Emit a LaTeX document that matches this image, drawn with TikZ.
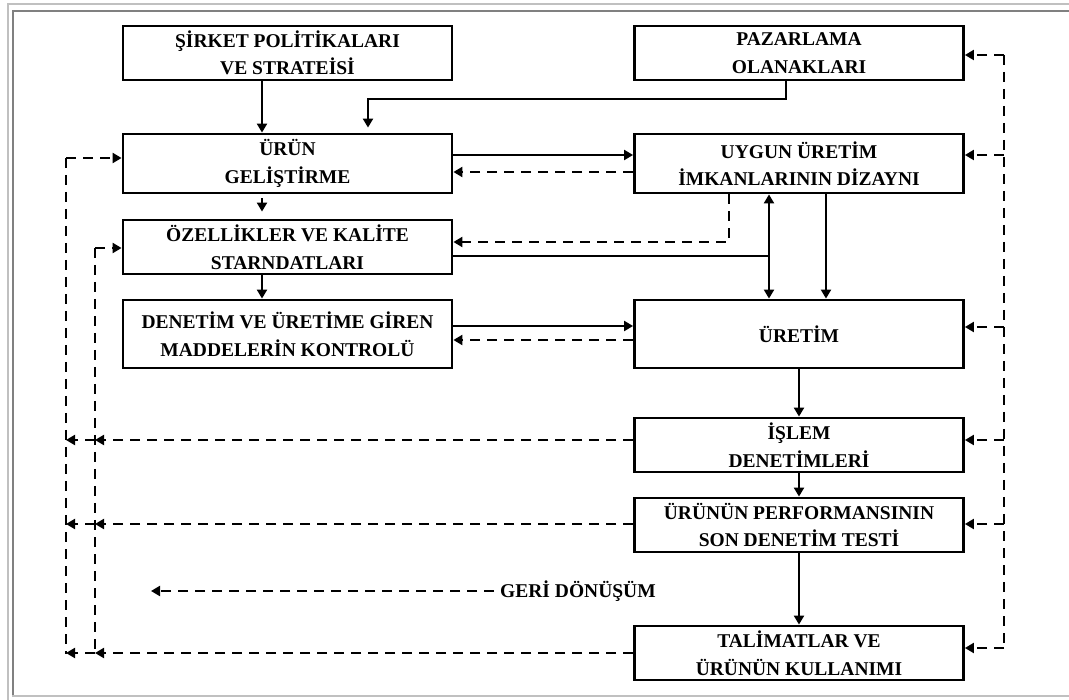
\documentclass[tikz,border=0pt]{standalone}
\usepackage{fontspec}
\setmainfont{Liberation Serif}
\usetikzlibrary{arrows.meta}
\definecolor{framelight}{RGB}{192,192,192}
\definecolor{framedark}{RGB}{128,128,128}

\tikzset{
  box/.style={draw, line width=2.8pt, minimum width=329pt, minimum height=54pt, inner sep=0pt,
    align=center, font=\fontsize{19.5}{27.5}\selectfont\bfseries},
  flow/.style={line width=2pt, -{Triangle[length=9pt,width=10pt]}},
  fb/.style={line width=2pt, dash pattern=on 10pt off 7pt, -{Triangle[length=9pt,width=10pt]}},
  fbline/.style={line width=2pt, dash pattern=on 10pt off 7pt}
}

\begin{document}
\begin{tikzpicture}[x=1pt, y=-1pt]
  \useasboundingbox (0,0) rectangle (1069,700);
  % frame
  \draw[framelight, line width=2pt] (8,700) -- (8,4) -- (1069,4);
  \draw[framedark, line width=2pt] (13,695) -- (13,11) -- (1069,11);
  \draw[framelight, line width=2pt] (12,696) -- (1069,696);

  \node[box] (sirket) at (287.5,53) {ŞİRKET POLİTİKALARI\\VE STRATEİSİ};
  \node[box] (pazar) at (799,53) {PAZARLAMA\\OLANAKLARI};
  \node[box, minimum height=59pt] (urun) at (287.5,163.5) {ÜRÜN\\GELİŞTİRME};
  \node[box, minimum height=59pt] (uygun) at (799,163.5) {UYGUN ÜRETİM\\İMKANLARININ DİZAYNI};
  \node[box] (ozel) at (287.5,247) {ÖZELLİKLER VE KALİTE\\STARNDATLARI};
  \node[box, minimum height=68pt] (denetim) at (287.5,334) {DENETİM VE ÜRETİME GİREN\\MADDELERİN KONTROLÜ};
  \node[box, minimum height=68pt] (uretim) at (799,334) {ÜRETİM};
  \node[box] (islem) at (799,445) {İŞLEM\\DENETİMLERİ};
  \node[box] (perf) at (799,525) {ÜRÜNÜN PERFORMANSININ\\SON DENETİM TESTİ};
  \node[box] (talimat) at (799,653) {TALİMATLAR VE\\ÜRÜNÜN KULLANIMI};

  \coordinate (rbus) at (1004,0);
  \coordinate (obus) at (66,0);
  \coordinate (ibus) at (95,0);
  \coordinate (tap) at (769,256);

  % main flow
  \draw[flow] (sirket.south -| 262,0) -- (urun.north -| 262,0);
  \draw[flow, shorten >=5pt] (pazar.south -| 786,0) -- ++(0,18) -| (urun.north -| 368,0);
  \draw[flow] (urun.east |- 0,155) -- (uygun.west |- 0,155);
  \draw[fb] (uygun.west |- 0,172) -- (urun.east |- 0,172);
  \draw[flow, shorten <=4pt, shorten >=7pt] (urun.south -| 262,0) -- (ozel.north -| 262,0);
  \draw[flow] (ozel.south -| 262,0) -- (denetim.north -| 262,0);
  \draw[fb] (uygun.south -| 729,0) |- (ozel.east |- 0,242);
  \draw[line width=2pt] (ozel.east |- 0,256) -- (tap);
  \draw[line width=2pt, {Triangle[length=9pt,width=10pt]}-{Triangle[length=9pt,width=10pt]}]
    (uygun.south -| tap) -- (uretim.north -| tap);
  \draw[flow] (uygun.south -| 826,0) -- (uretim.north -| 826,0);
  \draw[flow] (denetim.east |- 0,326) -- (uretim.west |- 0,326);
  \draw[fb] (uretim.west |- 0,340) -- (denetim.east |- 0,340);
  \draw[flow] (uretim.south) -- (islem.north);
  \draw[flow] (islem.south) -- (perf.north);
  \draw[flow] (perf.south) -- (talimat.north);

  % feedback on the right
  \draw[fbline] (rbus |- 0,55) -- (rbus |- 0,648);
  \foreach \n/\y in {pazar/55, uygun/155, uretim/327, islem/440, perf/524, talimat/648}
    \draw[fb] (rbus |- 0,\y) -- (\n.east |- 0,\y);

  % feedback on the left
  \draw[fbline] (obus |- 0,158) -- (obus |- 0,654);
  \draw[fb] (obus |- 0,158) -- (urun.west |- 0,158);
  \draw[fbline] (ibus |- 0,248) -- (ibus |- 0,654);
  \draw[fb] (ibus |- 0,248) -- (ozel.west |- 0,248);
  \foreach \n/\y in {islem/440, perf/524, talimat/653} {
    \draw[fb] (\n.west |- 0,\y) -- (ibus |- 0,\y);
    \draw[fb] (ibus |- 0,\y) -- (obus |- 0,\y);
  }

  % legend
  \node[font=\fontsize{19.5}{27.5}\selectfont\bfseries, anchor=west, inner sep=0pt] (geri) at (500,591) {GERİ DÖNÜŞÜM};
  \coordinate (gtip) at (151,591);
  \draw[fb, shorten <=6pt] (geri.west) -- (gtip);
\end{tikzpicture}
\end{document}
